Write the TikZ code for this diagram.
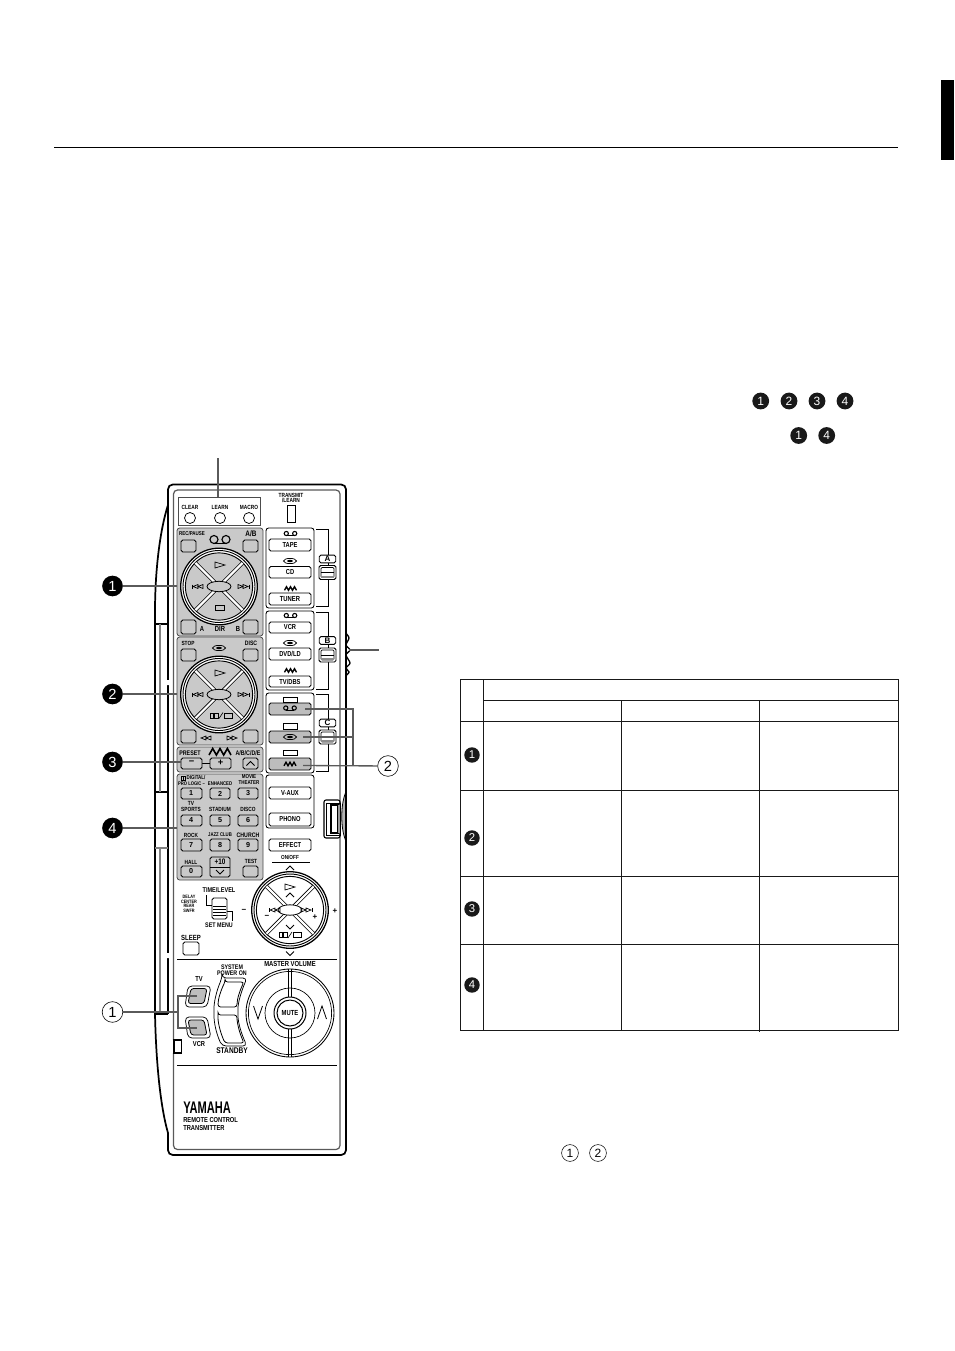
\documentclass[tikz,border=0pt]{standalone}
\usepackage{fontspec}
\setmainfont{Liberation Sans}
\newfontfamily\lblfont[FakeStretch=0.8]{Liberation Sans Bold}
\newfontfamily\widefont{Liberation Sans Bold}
\newfontfamily\yamfont[FakeStretch=0.66]{Liberation Sans Bold}
\newcounter{tc}
\def\pxu{0.75pt}
\definecolor{panelgray}{HTML}{C9C9C9}
\definecolor{btngray}{HTML}{BDBDBD}
\definecolor{callgray}{HTML}{5A5A5A}
\tikzset{
  tx/.style={inner sep=0pt,font=\lblfont\fontsize{4.5pt}{5pt}\selectfont,text=black,align=center},
  txb/.style={inner sep=0pt,font=\widefont\fontsize{6pt}{6pt}\selectfont,text=black},
  blk/.style={circle,fill=black,inner sep=0pt,minimum size=15.5pt,text=white,font=\fontsize{11pt}{11pt}\selectfont},
  blks/.style={circle,fill=black!90,inner sep=0pt,minimum size=12.6pt,text=white,font=\fontsize{9pt}{9pt}\selectfont},
  blkt/.style={circle,fill=black!90,inner sep=0pt,minimum size=11.6pt,text=white,font=\fontsize{8.5pt}{8.5pt}\selectfont},
  opn/.style={circle,draw=black,line width=.45pt,fill=white,inner sep=0pt,minimum size=15.5pt,text=black,font=\fontsize{11pt}{11pt}\selectfont},
  opns/.style={circle,draw=black,line width=.4pt,fill=white,inner sep=0pt,minimum size=12.6pt,text=black,font=\fontsize{9pt}{9pt}\selectfont},
  call/.style={draw=callgray,line width=.8pt},
  heavy/.style={draw=black,line width=1.3pt},
  frm/.style={draw=black!65,line width=.9pt},
  panel/.style={draw=black!70,line width=.6pt,fill=panelgray,rounded corners=2pt},
  btn/.style={draw=black,line width=.65pt,rounded corners=1.3pt},
  grid/.style={draw=black!90,line width=.65pt},
}
% text node: plain, and with explicit size
\newcommand\Txt[3]{\stepcounter{tc}\node[tx] (t\arabic{tc}) at (#1,#2) {#3};}
\newcommand\TxS[4]{\stepcounter{tc}\node[tx,font=\lblfont\fontsize{#1pt}{#1pt}\selectfont] (t\arabic{tc}) at (#2,#3) {#4};}
\newcommand\Num[3]{\stepcounter{tc}\node[tx,font=\widefont\fontsize{5.4pt}{5.4pt}\selectfont] (t\arabic{tc}) at (#1,#2) {#3};}
% button
\newcommand\Bt[4]{\draw[btn,fill=panelgray] (#1,#2) rectangle (#3,#4);}
\newcommand\Bw[4]{\draw[btn,fill=white] (#1,#2) rectangle (#3,#4);}
\newcommand\Bg[4]{\draw[btn,fill=btngray] (#1,#2) rectangle (#3,#4);}
% icons
\newcommand\TapeI[2]{\draw[black,line width=.8pt] (#1-4.2,#2) circle[radius=2.1*\pxu] (#1+4.2,#2) circle[radius=2.1*\pxu];\draw[black,line width=.8pt] (#1-4.2,#2+2.1) -- (#1+4.2,#2+2.1);}
\newcommand\DiscI[2]{\draw[black,line width=.55pt] (#1,#2) ellipse[x radius=6.5*\pxu,y radius=2.6*\pxu];\fill[black] (#1,#2) ellipse[x radius=3*\pxu,y radius=1.2*\pxu];}
\newcommand\Zig[4]{\draw[black,line width=#4,line join=miter] (#1-6,#2+1.8) -- (#1-4,#2-1.8) -- (#1-2,#2+1.8) -- (#1,#2-1.8) -- (#1+2,#2+1.8) -- (#1+4,#2-1.8) -- (#1+6,#2+1.8);}
\newcommand\PlayI[2]{\draw[black,line width=.5pt] (#1-5,#2-3) -- (#1+5,#2) -- (#1-5,#2+3) -- cycle;}
\newcommand\StopI[2]{\draw[black,line width=.5pt] (#1-4.5,#2-2.5) rectangle (#1+4.5,#2+2.5);}
\newcommand\FfI[2]{\draw[black,line width=.5pt] (#1-6,#2-2) -- (#1-1,#2) -- (#1-6,#2+2) -- cycle (#1-1,#2-2) -- (#1+4,#2) -- (#1-1,#2+2) -- cycle;\draw[black,line width=.55pt] (#1+5,#2-2) -- (#1+5,#2+2);}
\newcommand\RwI[2]{\draw[black,line width=.5pt] (#1+6,#2-2) -- (#1+1,#2) -- (#1+6,#2+2) -- cycle (#1+1,#2-2) -- (#1-4,#2) -- (#1+1,#2+2) -- cycle;\draw[black,line width=.55pt] (#1-5,#2-2) -- (#1-5,#2+2);}
\newcommand\FfP[2]{\draw[black,line width=.5pt] (#1-6,#2-2) -- (#1-1,#2) -- (#1-6,#2+2) -- cycle (#1-1,#2-2) -- (#1+4,#2) -- (#1-1,#2+2) -- cycle;}
\newcommand\RwP[2]{\draw[black,line width=.5pt] (#1+6,#2-2) -- (#1+1,#2) -- (#1+6,#2+2) -- cycle (#1+1,#2-2) -- (#1-4,#2) -- (#1+1,#2+2) -- cycle;}
\newcommand\PauseStop[2]{\draw[black,line width=.5pt] (#1-11,#2-2.5) rectangle (#1-7.5,#2+2.5) (#1-6.5,#2-2.5) rectangle (#1-3,#2+2.5) (#1+3,#2-2.5) rectangle (#1+11,#2+2.5);\draw[black,line width=.5pt] (#1-2,#2+3) -- (#1+2,#2-3);}
\newcommand\CaretU[2]{\draw[black,line width=.65pt] (#1-4,#2+2) -- (#1,#2-2) -- (#1+4,#2+2);}
\newcommand\CaretD[2]{\draw[black,line width=.65pt] (#1-4,#2-2) -- (#1,#2+2) -- (#1+4,#2-2);}
% dial: cx cy fill
\newcommand\DialBase[3]{%
  \draw[black,line width=.95pt,fill=white] (#1,#2) circle[radius=38.3*\pxu];
  \draw[black,line width=.7pt] (#1,#2) circle[radius=36*\pxu];
  \draw[black,line width=.7pt,fill=#3] (#1,#2) circle[radius=33.6*\pxu];
  \begin{scope}
    \clip (#1,#2) circle[radius=33.3*\pxu];
    \draw[black,line width=2.8pt] (#1-26,#2-26) -- (#1+26,#2+26) (#1-26,#2+26) -- (#1+26,#2-26);
    \draw[white,line width=1.6pt] (#1-26,#2-26) -- (#1+26,#2+26) (#1-26,#2+26) -- (#1+26,#2-26);
  \end{scope}
  \draw[black,line width=.6pt,fill=#3] (#1,#2) ellipse[x radius=12*\pxu,y radius=5.2*\pxu];
}
% slider
\newcommand\Slider[2]{%
  \draw[black,line width=.7pt,fill=white,rounded corners=1.2pt] (#1-8.5,#2-7) rectangle (#1+8.5,#2+7);
  \draw[black,line width=.55pt,rounded corners=.8pt] (#1-6.5,#2-5) rectangle (#1+6.5,#2+5);
  \draw[black,line width=.55pt] (#1-6.5,#2) -- (#1+6.5,#2);
  \fill[black!45] (#1-6.5,#2+3.4) rectangle (#1+6.5,#2+5);
}
\newcommand\LetterBox[3]{%
  \stepcounter{tc}\node[txb,draw=black,line width=.6pt,fill=white,rounded corners=1.2pt,minimum width=12.4pt,minimum height=5.8pt] (t\arabic{tc}) at (#1,#2) {#3};
}
\begin{document}
\begin{tikzpicture}[x=0.75pt,y=-0.75pt]
\useasboundingbox (0,0) rectangle (954,1351);
\fill[white] (0,0) rectangle (954,1351);
% page furniture
\draw[black,line width=.5pt] (54,147) -- (898,147);
\fill[black] (941,80) rectangle (954,160);
% top right numerals
\node[blks] (a1) at (760.7,401) {1};
\node[blks] (a2) at (789,401) {2};
\node[blks] (a3) at (817,401) {3};
\node[blks] (a4) at (845,401) {4};
\node[blks] (b1) at (798.7,435.5) {1};
\node[blks] (b4) at (826.7,435.5) {4};
\node[opns] (d1) at (570,1153) {1};
\node[opns] (d2) at (598,1153) {2};
% table
\draw[grid] (460.7,679) rectangle (898,1030);
\draw[grid] (483.5,679) -- (483.5,1030);
\draw[grid] (483.5,700) -- (898,700);
\draw[grid] (460.7,721) -- (898,721);
\draw[grid] (460.7,790) -- (898,790);
\draw[grid] (460.7,876) -- (898,876);
\draw[grid] (460.7,944) -- (898,944);
\draw[grid] (621,700) -- (621,1030);
\draw[grid] (759,700) -- (759,1032);
\node[blkt] (r1) at (472,755) {1};
\node[blkt] (r2) at (472,838) {2};
\node[blkt] (r3) at (472,909) {3};
\node[blkt] (r4) at (472,985) {4};
% body
\draw[heavy,rounded corners=3.6pt] (168,505) -- (168,484.5) -- (346,484.5) -- (346,1155) -- (168,1155) -- (168,1133);
\draw[heavy] (168,505) .. controls (160,530) and (155,570) .. (155,612) -- (155,624);
\draw[heavy] (155,1014) .. controls (156,1060) and (160,1105) .. (168,1133);
\draw[frm,rounded corners=3pt] (173.5,1040) -- (173.5,490) -- (340,490) -- (340,1149.5) -- (173.5,1149.5) -- (173.5,1053);
% left strip
\draw[heavy,line width=1pt] (155,624) -- (155,1014) (155,624) -- (168,624) (155,792) -- (168,792) ;
\draw[heavy,line width=1.1pt] (168,505) -- (168,1014);
\draw[heavy] (155,1014) -- (168,1014);
\draw[draw=black!50,line width=.9pt] (160,624) -- (160,792) (160,848) -- (160,1012);
\draw[draw=black!50,line width=.8pt] (155,848) -- (168,848);
\fill[white] (167,680) rectangle (169.5,685) (167,953) rectangle (169.5,958);
% right wavy
\draw[black,line width=1pt] plot[smooth] coordinates {(345.7,633) (349,638) (346,645) (350,650) (346,655) (350,663) (346,668) (349,672) (345.7,676)};
% small tab
\draw[black,line width=.8pt,fill=white] (174,1040) rectangle (181.5,1053);
% side button
\draw[black,line width=.8pt,rounded corners=1.5pt] (324,800) rectangle (340,838);
\draw[black,line width=.5pt] (326,803) rectangle (340,835);
\draw[black,line width=.8pt,fill=white] (331,805) rectangle (338,833);
\fill[black!40] (338,805) rectangle (340,833);
\draw[black,line width=.6pt,fill=black!30] (345.5,793) .. controls (340.5,805) and (340.5,828) .. (345.5,840) -- cycle;
% clear panel
\draw[draw=black!70,line width=.7pt] (178,497) rectangle (260,525);
\Txt{190}{507}{CLEAR}\Txt{220}{507}{LEARN}\Txt{249}{507}{MACRO}
\draw[black,line width=.55pt] (190,518) circle[radius=5.5*\pxu] (220,518) circle[radius=5.5*\pxu] (249,518) circle[radius=5.5*\pxu];
\Txt{291}{495}{TRANSMIT}\Txt{291}{500}{/LEARN}
\draw[black,line width=.55pt] (287,505) rectangle (295,522);
% panel 1
\draw[panel] (177,528) rectangle (263,636);
\TxS{4.2}{192}{534}{REC/PAUSE}\TxS{6}{251}{534}{A/B}
\draw[black,line width=.85pt] (214,539.5) circle[radius=4*\pxu] (226,539.5) circle[radius=4*\pxu];
\draw[black,line width=.85pt] (214,543.5) -- (226,543.5);
\Bt{181}{540}{196}{552}\Bt{243}{540}{258}{552}
\DialBase{219}{586.5}{panelgray}
\PlayI{220}{565}\StopI{220}{607.5}\RwI{197}{586.5}\FfI{244}{586.5}
\Bt{181}{620}{196}{634}\Bt{243}{620}{258}{634}
\TxS{5.5}{202}{629}{A}\TxS{5.5}{220}{629}{DIR}\TxS{5.5}{238}{629}{B}
% panel 2
\draw[panel] (177,637) rectangle (263,745);
\Txt{188}{643}{STOP}\TxS{4.8}{251}{643}{DISC}
\DiscI{219}{648}
\Bt{181}{649}{196}{661}\Bt{243}{649}{258}{661}
\DialBase{219}{694.5}{panelgray}
\PlayI{220}{673}\PauseStop{221}{715.5}\RwI{197}{694.5}\FfI{244}{694.5}
\Bt{181}{730}{196}{743}\Bt{243}{730}{258}{743}
\RwP{205}{738}\FfP{233}{738}
% panel 3
\draw[panel] (177,747) rectangle (263,772);
\TxS{5}{190}{753}{PRESET}\TxS{5}{248}{753}{A/B/C/D/E}
\draw[black,line width=1.2pt] (209,755) -- (212.7,748.5) -- (216.4,755) -- (220,748.5) -- (223.7,755) -- (227.4,748.5) -- (231,755);
\draw[black,line width=.6pt] (202,763.5) -- (210,763.5);
\Bt{181}{758}{202}{769}\Bt{210}{758}{231}{769}\Bt{243}{758}{258}{769}
\stepcounter{tc}\node[tx,font=\widefont\fontsize{7pt}{7pt}\selectfont] (t\arabic{tc}) at (191.5,763) {−};
\stepcounter{tc}\node[tx,font=\widefont\fontsize{7pt}{7pt}\selectfont] (t\arabic{tc}) at (220.5,763) {+};
\CaretU{250.5}{763.5}
% panel 4
\draw[panel] (177,774) rectangle (263,880);
\draw[black,line width=.5pt] (181.3,776) rectangle (183.3,780) (183.8,776) rectangle (185.8,780);
\TxS{4.2}{196}{778}{DIGITAL/}\TxS{3.9}{191.5}{784}{PRO LOGIC –}\TxS{4}{220}{784}{ENHANCED}
\TxS{4.2}{249}{777}{MOVIE}\TxS{4.2}{249}{783}{THEATER}
\Bt{181}{788}{202}{799}\Bt{210}{788}{230}{799}\Bt{238}{788}{258}{799}
\Num{191}{793.5}{1}\Num{220}{793.5}{2}\Num{248}{793.5}{3}
\Txt{191}{803}{TV}\Txt{191}{809.5}{SPORTS}\Txt{220}{809.5}{STADIUM}\Txt{248}{809.5}{DISCO}
\Bt{181}{815}{202}{826}\Bt{210}{815}{230}{826}\Bt{238}{815}{258}{826}
\Num{191}{820.5}{4}\Num{220}{820.5}{5}\Num{248}{820.5}{6}
\Txt{191}{835}{ROCK}\TxS{4}{220}{835}{JAZZ CLUB}\TxS{4.9}{248}{835}{CHURCH}
\Bt{181}{839}{202}{851}\Bt{210}{839}{230}{851}\Bt{238}{839}{258}{851}
\Num{191}{845}{7}\Num{220}{845}{8}\Num{248}{845}{9}
\Txt{191}{862}{HALL}\Txt{251}{861}{TEST}
\Bt{181}{866}{202}{877}\Bt{210}{857}{230}{877}\Bt{243}{866}{258}{877}
\draw[black,line width=.55pt] (210,867) -- (230,867);
\Num{191}{871.5}{0}
\TxS{6}{220}{861.8}{+10}
\CaretD{220}{872}
% source box A
\draw[btn,rounded corners=2pt,fill=white] (266,528) rectangle (314,608);
\TapeI{290.5}{533.5}\Bw{269}{539}{311}{551}\TxS{5.4}{290}{545}{TAPE}
\DiscI{290}{561}\Bw{269}{566.5}{311}{578}\TxS{5.4}{290}{572.5}{CD}
\Zig{290.5}{588.5}{}{1pt}\Bw{269}{593}{311}{605}\TxS{5.5}{290}{599}{TUNER}
\draw[black,line width=.6pt] (316,529) -- (328,529) -- (328,606) -- (316,606);
\LetterBox{327.5}{559}{A}
\Slider{327.5}{572.5}
% source box B
\draw[btn,rounded corners=2pt,fill=white] (266,611) rectangle (314,690);
\TapeI{290.5}{615.5}\Bw{269}{622}{311}{633}\TxS{5.4}{290}{627.5}{VCR}
\DiscI{290}{643}\Bw{269}{648}{311}{660}\TxS{5.4}{290}{654}{DVD/LD}
\Zig{290.5}{670.5}{}{1pt}\Bw{269}{676}{311}{687}\TxS{5.4}{290}{681.5}{TV/DBS}
\draw[black,line width=.6pt] (316,612) -- (328,612) -- (328,689) -- (316,689);
\LetterBox{327.5}{640.5}{B}
\Slider{327.5}{655}
% source box C
\draw[btn,rounded corners=2pt,fill=white] (266,693) rectangle (314,773);
\draw[black,line width=.55pt] (283,697) rectangle (297,702);
\Bg{269}{703}{311}{715}
\TapeI{290}{708}
\draw[black,line width=.55pt] (283,723) rectangle (297,729);
\Bg{269}{731}{311}{743}
\DiscI{290}{737}
\draw[black,line width=.55pt] (283,750) rectangle (297,755);
\Bg{269}{758}{311}{770}
\Zig{290}{764}{}{1pt}
\draw[black,line width=.6pt] (316,694) -- (328,694) -- (328,771) -- (316,771);
\LetterBox{327.5}{723}{C}
\Slider{327.5}{737}
% box D
\draw[btn,rounded corners=2pt,fill=white] (266,775) rectangle (314,828);
\Bw{269}{787}{311}{799}\TxS{5.4}{290}{793}{V-AUX}
\Bw{269}{813}{311}{826}\TxS{5.4}{290}{819.5}{PHONO}
\Bw{269}{839}{311}{851}\TxS{5.4}{290}{845}{EFFECT}
\TxS{4.4}{290}{857}{ON/OFF}
\draw[black,line width=.6pt] (272,862) -- (310,862);
% dial 3
\CaretU{290}{868}
\DialBase{290}{910}{white}
\PlayI{290}{887}\CaretU{290}{895}\RwI{274}{910}\FfI{307}{910}
\CaretD{290}{927}\PauseStop{290}{935}
\CaretD{290}{953.5}
\stepcounter{tc}\node[tx,font=\widefont\fontsize{6pt}{6pt}\selectfont] (t\arabic{tc}) at (267,917) {−};
\stepcounter{tc}\node[tx,font=\widefont\fontsize{6pt}{6pt}\selectfont] (t\arabic{tc}) at (315,917) {+};
\stepcounter{tc}\node[tx,font=\widefont\fontsize{6pt}{6pt}\selectfont] (t\arabic{tc}) at (244,911) {−};
\stepcounter{tc}\node[tx,font=\widefont\fontsize{6pt}{6pt}\selectfont] (t\arabic{tc}) at (335,911) {+};
% time/level
\TxS{5.2}{219}{890}{TIME/LEVEL}\TxS{5}{219}{925.5}{SET MENU}
\stepcounter{tc}\node[tx,font=\lblfont\fontsize{3.6pt}{3.5pt}\selectfont] (t\arabic{tc}) at (189,904) {DELAY\\CENTER\\REAR\\SWFR};
\draw[black,line width=.6pt] (206,895) -- (206,905) -- (212,905);
\draw[black,line width=.6pt] (227,911) -- (232,911) -- (232,921);
\draw[btn,fill=white] (212,898) rectangle (227,919);
\draw[black,line width=.5pt] (213,906) -- (226,906) (213,909) -- (226,909) (213,912) -- (226,912) (213,915) -- (226,915);
\TxS{5.6}{191}{937.5}{SLEEP}
\Bw{183}{942}{199}{955}
\draw[black,line width=.7pt] (177,959) -- (337,959);
\draw[black,line width=.7pt] (177,1065) -- (337,1065);
\TxS{5.5}{290}{963.5}{MASTER VOLUME}
% volume dial
\draw[black,line width=.65pt,fill=white] (290,1013) circle[radius=44*\pxu];
\draw[black,line width=.5pt] (290,1013) circle[radius=41.6*\pxu];
\draw[black,line width=.5pt] (290,1013) circle[radius=25*\pxu];
\draw[black,line width=.65pt] (288.9,969) -- (288.9,997) (291.1,969) -- (291.1,997) (288.9,1029) -- (288.9,1057) (291.1,1029) -- (291.1,1057);
\draw[black,line width=.75pt,fill=white] (290,1013) circle[radius=16*\pxu];
\draw[black,line width=.75pt] (290,1013) circle[radius=13*\pxu];
\TxS{5.5}{290}{1013}{MUTE}
\draw[black,line width=.6pt] (253.5,1006) -- (258,1019) -- (262.5,1006);
\draw[black,line width=.6pt] (317.5,1019) -- (322,1006) -- (326.5,1019);
% TV/VCR
\draw[black,line width=.55pt,rounded corners=3pt] (188,986) -- (211,986) -- (207,1007) -- (185,1007) -- cycle;
\draw[black,line width=.6pt,fill=btngray,rounded corners=2pt] (191,988.5) -- (207,988.5) -- (204,1003.5) -- (188,1003.5) -- cycle;
\draw[black,line width=.55pt,rounded corners=3pt] (185,1017) -- (207,1017) -- (211,1038) -- (188,1038) -- cycle;
\draw[black,line width=.6pt,fill=btngray,rounded corners=2pt] (188,1020) -- (204,1020) -- (207,1035) -- (191,1035) -- cycle;
\TxS{5.4}{199}{979}{TV}\TxS{5.4}{199}{1044}{VCR}
\TxS{5}{232}{967.5}{SYSTEM}\TxS{5}{232}{973}{POWER ON}\TxS{6.2}{232}{1051}{STANDBY}
% power crescent
\draw[black,line width=.55pt,rounded corners=3pt] (222,978) -- (247,978) .. controls (241,992) and (238,1003) .. (238,1012) .. controls (238,1022) and (241,1033) .. (247,1046) -- (222,1046) .. controls (216,1033) and (214,1022) .. (214,1012) .. controls (214,1003) and (216,992) .. (222,978) -- cycle;
\draw[black,line width=.6pt,rounded corners=2pt] (225,982) -- (244,982) .. controls (240,990) and (237,999) .. (237,1007) -- (218,1007) .. controls (218,999) and (221,990) .. (225,982) -- cycle;
\draw[black,line width=.6pt,rounded corners=2pt] (218,1015) -- (237,1015) .. controls (237,1024) and (240,1034) .. (244,1043) -- (225,1043) .. controls (221,1034) and (218,1024) .. (218,1015) -- cycle;
% brand
\node[inner sep=0pt,anchor=west,font=\yamfont\fontsize{12.6pt}{12.6pt}\selectfont] (brand) at (183,1108) {YAMAHA};
\node[inner sep=0pt,anchor=north west,align=left,font=\lblfont\fontsize{5.4pt}{5.4pt}\selectfont] (sub) at (183,1117.5) {REMOTE CONTROL\\TRANSMITTER};
% callouts
\node[blk] (n1) at (112.5,586) {1};
\node[blk] (n2) at (112.5,694) {2};
\node[blk] (n3) at (112.5,762) {3};
\node[blk] (n4) at (112.5,828) {4};
\node[opn] (n5) at (112.5,1012) {1};
\node[opn] (n6) at (388,766) {2};
\coordinate (c1) at (177,586);
\coordinate (c2) at (177,694);
\coordinate (c3) at (181,762);
\coordinate (c4) at (177,828);
\coordinate (c5) at (178,1012);
\coordinate (c5a) at (197,996);
\coordinate (c5b) at (197,1028);
\coordinate (top0) at (218,458);
\coordinate (top1) at (218,497);
\coordinate (w0) at (349,650);
\coordinate (w1) at (379,650);
\coordinate (q1) at (305,709);
\coordinate (q2) at (303,737);
\coordinate (q3) at (303,765.5);
\coordinate (qm) at (353,737);
\coordinate (qt) at (353,709);
\coordinate (qb) at (353,765.5);
\draw[call] (n1) -- (c1);
\draw[call] (n2) -- (c2);
\draw[call] (n3) -- (c3);
\draw[call] (n4) -- (c4);
\draw[call] (n5) -- (c5);
\draw[call] (c5a) -- (c5 |- c5a) -- (c5 |- c5b) -- (c5b);
\draw[call] (top0) -- (top1);
\draw[call] (w0) -- (w1);
\draw[call] (q1) -- (qt) -- (qb);
\draw[call] (q2) -- (qm);
\draw[call,line width=1pt] (q3) -- (n6);
\end{tikzpicture}
\end{document}
